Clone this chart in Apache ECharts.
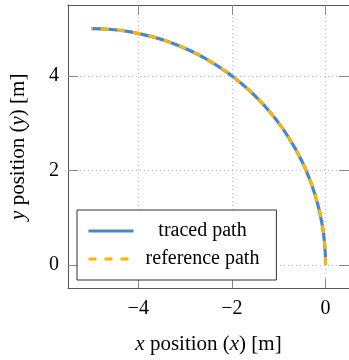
<!DOCTYPE html>
<html>
<head>
<meta charset="utf-8">
<script src="https://cdn.jsdelivr.net/npm/echarts@6/dist/echarts.min.js"></script>
<style>html,body{margin:0;padding:0;background:#fff;}#c{width:349px;height:360px;}</style>
</head>
<body>
<div id="c"></div>
<script>
// Path points (x, y in metres)
var pathX = [0, -0.019, -0.076, -0.170, -0.302, -0.468, -0.670, -0.904, -1.170, -1.464, -1.786, -2.132, -2.500, -2.887, -3.290, -3.706, -4.132, -4.564, -5.000];
var pathY = [0, 0.436, 0.868, 1.294, 1.710, 2.113, 2.500, 2.868, 3.214, 3.536, 3.830, 4.096, 4.330, 4.532, 4.698, 4.830, 4.924, 4.981, 5.000];
var tracedX = pathX.slice();
var tracedY = pathY.slice();
var xTicks = [-4, -2, 0];
var yTicks = [0, 2, 4];
var seriesNames = ['traced path', 'reference path'];

function pairs(xs, ys) { return xs.map(function (v, i) { return [v, ys[i]]; }); }
function fmt(v) { return v < 0 ? '\u2212' + Math.abs(v) : String(v); }

var FONT = 'Liberation Serif';
var BLUE = '#4287cf', ORANGE = '#ffb400';
var axisLineStyle = { color: '#555', width: 1 };
var tickStyle = { color: '#888', width: 1 };
var gridStyle = { color: '#bbb', width: 1, type: [1, 3] };

var chart = echarts.init(document.getElementById('c'), null, { renderer: 'canvas' });
chart.setOption({
  animation: false,
  backgroundColor: '#fff',
  grid: { left: 68, top: 5, width: 284, height: 283.5, containLabel: false },
  xAxis: [{
    type: 'value', position: 'bottom', min: -5.5, max: 0.5,
    axisLine: { show: true, lineStyle: axisLineStyle, onZero: false },
    axisTick: { show: true, inside: true, length: 10, lineStyle: tickStyle, customValues: xTicks },
    axisLabel: { customValues: xTicks, formatter: fmt, fontFamily: FONT, fontSize: 20, color: '#000', margin: 10 },
    splitLine: { show: true, lineStyle: gridStyle },
    name: '{i|x} position ({i|x}) [m]', nameLocation: 'middle', nameGap: 45,
    nameTextStyle: { fontFamily: FONT, fontSize: 21, color: '#000', rich: { i: { fontFamily: FONT, fontSize: 21, fontStyle: 'italic', color: '#000' } } }
  }, {
    type: 'value', position: 'top', min: -5.5, max: 0.5,
    axisLine: { show: true, lineStyle: axisLineStyle, onZero: false },
    axisTick: { show: true, inside: true, length: 10, lineStyle: tickStyle, customValues: xTicks },
    axisLabel: { show: false },
    splitLine: { show: false }
  }],
  yAxis: [{
    type: 'value', position: 'left', min: -0.5, max: 5.5,
    axisLine: { show: true, lineStyle: axisLineStyle, onZero: false },
    axisTick: { show: true, inside: true, length: 10, lineStyle: tickStyle, customValues: yTicks },
    axisLabel: { customValues: yTicks, formatter: fmt, fontFamily: FONT, fontSize: 20, color: '#000', margin: 9 },
    splitLine: { show: true, lineStyle: gridStyle },
    name: '{i|y} position ({i|y}) [m]', nameLocation: 'middle', nameGap: 39,
    nameTextStyle: { fontFamily: FONT, fontSize: 21, color: '#000', rich: { i: { fontFamily: FONT, fontSize: 21, fontStyle: 'italic', color: '#000' } } }
  }, {
    type: 'value', position: 'right', min: -0.5, max: 5.5,
    axisLine: { show: true, lineStyle: axisLineStyle, onZero: false },
    axisTick: { show: true, inside: true, length: 10, lineStyle: tickStyle, customValues: yTicks },
    axisLabel: { show: false },
    splitLine: { show: false }
  }],
  legend: {
    orient: 'vertical', left: 77, top: 210,
    padding: [11, 17, 11, 10],
    itemWidth: 45, itemHeight: 20, itemGap: 8,
    backgroundColor: '#fff', borderColor: '#333', borderWidth: 1,
    itemStyle: { opacity: 0 },
    data: [
      { name: seriesNames[0], lineStyle: { color: BLUE, width: 3, type: 'solid' } },
      { name: seriesNames[1], lineStyle: { color: ORANGE, width: 3, type: [8, 8] } }
    ],
    formatter: function (n) { return '{t|' + n + '}'; },
    textStyle: { fontFamily: FONT, fontSize: 20, color: '#000',
      rich: { t: { fontFamily: FONT, fontSize: 20, color: '#000', width: 128, align: 'center' } } }
  },
  series: [{
    name: seriesNames[0], type: 'line', smooth: true, symbol: 'none',
    data: pairs(tracedX, tracedY),
    lineStyle: { color: BLUE, width: 3.2, cap: 'butt' },
    itemStyle: { color: BLUE }
  }, {
    name: seriesNames[1], type: 'line', smooth: true, symbol: 'none',
    data: pairs(pathX, pathY),
    lineStyle: { color: ORANGE, width: 3, type: [8, 8], cap: 'butt' },
    itemStyle: { color: ORANGE }
  }]
});
</script>
</body>
</html>
